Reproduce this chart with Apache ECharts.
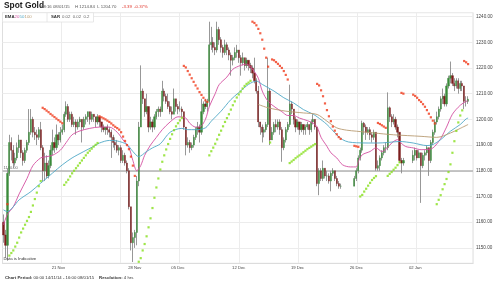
<!DOCTYPE html>
<html><head><meta charset="utf-8">
<script src="https://cdn.jsdelivr.net/npm/echarts@6/dist/echarts.min.js"></script>
<style>html,body{margin:0;padding:0;background:#fff}#c{width:500px;height:284px}</style>
</head><body><div id="c"></div>
<script>
// ---- data (4-hour bars, index 0 = 00:00 14/11/14); null = no trading ----
const firstOpen = 1160;
const closes = [
1155,1151,1179,1191,1188,1183,1185,1189,1192,1187,
1184,1188,1191,1195,1200,1195,1194,1193,1196,1189,
1180,1183,1178,1182,1188,1191,1189,1194,1192,1195,
1196,1202,1205,1200,1202,1198,1199,1197,1199,1200,
1197,1200,1201,1203,1200,1202,1201,1199,1201,1199,
1197,1196,1197,1196,1195,1193,1191,1190,1188,1189,
1184,1186,1183,1180,1166,1152,1154,1156,1176,1197,
1211,1208,1203,1205,1197,1199,1197,1201,1203,1204,
1203,1211,1209,1207,1205,1203,1202,1208,1205,1204,
1204,1203,1197,1190,1191,1189,1190,1193,1196,1197,
1195,1203,1206,1205,1207,1229,1230,1228,1227,1235,
1231,1228,1226,1229,1227,1225,1223,1224,1226,1227,
1224,1222,1224,1221,1223,1221,1220,1218,1215,1211,
1199,1197,1195,1196,1198,1211,1192,1195,1198,1197,
1199,1196,1189,1192,1196,1198,1206,1204,1200,1197,
1199,1196,1198,1196,1197,1198,1196,1199,1200,1197,
1175,1180,1177,1181,1178,1178,1176,1179,1180,1177,
1175,1174,1174,null,null,null,null,null,null,1177,
1180,1185,1188,1198.5,1197,1195,1196,1194,1193,1195,
1181,1182,1185,1187,1189,1189,1204.5,1201,1199,1200,
1197,1195,1184,1183,1184,null,null,null,null,1186,
1188,1185,1187,1182,1186,1187,1189,1184,1191,1195,
1199,1201,1204,1208,1209,1206,1213,1216,1217,1214,
1213,1215,1212,1214,1213,1207,1207,1207.85];
const highs = [
1163,1157,1181,1194,1193,1190,1187,1191,1194,1192,
1188,1189,1192,1204,1204,1201,1197,1196,1197,1199,
1190,1187,1186,1184,1190,1196,1193,1198,1195,1197,
1198,1203,1207,1206,1203,1203,1201,1200,1200,1201,
1200,1201,1202,1203,1203,1203,1202,1201,1202,1201,
1199,1198,1197,1198,1197,1196,1194,1193,1192,1190,
1190,1188,1187,1184,1181,1166,1156,1157,1178,1199,
1221,1212,1208,1210,1205,1201,1200,1202,1204,1205,
1205,1215,1212,1210,1210,1207,1205,1212,1208,1206,
1207,1205,1203,1197,1193,1192,1191,1194,1197,1199,
1198,1208,1207,1208,1208,1238,1236,1232,1230,1238,
1236,1232,1229,1231,1230,1228,1226,1225,1228,1229,
1227,1225,1226,1224,1224,1223,1222,1221,1224,1216,
1213,1199,1198,1197,1199,1224,1212,1197,1199,1200,
1200,1200,1197,1193,1197,1199,1213.5,1207,1204,1201,
1200,1199,1199,1198,1198,1199,1198,1200,1202,1200,
1197,1181,1181,1184,1181,1180,1179,1180,1181,1180,
1178,1176,1175,null,null,null,null,null,null,1178,
1181,1186,1189,1199.5,1199,1198,1197,1197,1195,1196,
1195,1184,1186,1188,1190,1191,1210.5,1205,1202,1202,
1201,1198,1195,1185,1185,null,null,null,null,1188,
1189,1188,1188,1187,1187,1188,1190,1189,1192,1196,
1200,1203,1205,1209,1212,1210,1214,1217,1222.5,1218,
1216,1216,1216,1215,1215,1213,1209,1209];
const lows = [
1152,1146,1145,1178,1184,1181,1182,1184,1187,1185,
1182,1183,1187,1190,1194,1193,1192,1190,1192,1188,
1176,1176,1177,1177,1181,1186,1187,1188,1190,1191,
1194,1195,1201,1199,1199,1197,1197,1194,1196,1197,
1191,1196,1198,1199,1198,1199,1199,1197,1198,1197,
1195,1195,1194,1194,1193,1185,1189,1188,1187,1186,
1183,1183,1182,1179,1165,1149,1144.5,1150,1151,1174,
1197,1206,1201,1202,1195,1196,1195,1196,1200,1201,
1201,1203,1207,1206,1204,1202,1200,1202,1203,1202,
1203,1201,1196,1186,1189,1187,1188,1189,1192,1194,
1191,1194,1202,1204,1203,1205,1227,1226,1225,1226,
1229,1226,1224,1225,1225,1223,1217,1221,1223,1224,
1222,1217,1221,1219,1220,1219,1218,1216,1214,1210,
1197,1194,1191,1193,1195,1197,1190,1192,1194,1195,
1196,1194,1183.5,1188,1191,1195,1197,1202,1198,1195,
1196,1194,1195,1194,1194,1196,1194,1195,1198,1196,
1174,1170.5,1176,1176,1177,1176,1175,1172,1178,1176,
1174,1173,1173,null,null,null,null,null,null,1175,
1176,1179,1184,1187,1194,1192,1194,1192,1191,1192,
1180,1180,1180,1184,1186,1187,1188,1199,1197,1198,
1196,1193,1183,1179,1182,null,null,null,null,1183,
1184,1184,1185,1167.5,1181,1184,1186,1178,1183,1190,
1194,1198,1200,1203,1206,1205,1205,1212,1214,1213,
1211,1212,1210,1211,1211,1204,1205,1206];

// EMA readings [bar index, value]
const ema20 = [[0,1159],[2,1163],[5,1166],[8,1171],[12,1177],[15,1182],[19,1185],[22,1185.5],[25,1186],[29,1188],
[32,1191],[35,1194],[39,1195.5],[44,1196.5],[49,1197],[54,1197],[58,1195],[61,1192],[64,1189],[66,1184],[68,1180],
[70,1182],[72,1186],[75,1190],[78,1193],[81,1196],[85,1199],[89,1201],[93,1200.5],[95,1198.5],[98,1197],[100,1197],
[103,1200],[105,1205],[108,1210],[110,1213.5],[114,1216.5],[117,1219.5],[121,1221],[124,1221.5],[127,1219.5],
[130,1216],[132,1211],[135,1207],[139,1204.5],[142,1203],[145,1201.5],[148,1201.5],[151,1200.5],[155,1199.5],
[158,1198.5],[160,1197],[162,1193],[165,1189.5],[167,1187],[170,1185],[173,1182.3],[177,1181.5],[180,1181.5],
[181,1183.6],[183,1186.2],[187,1187.5],[190,1188.9],[193,1187.5],[196,1189],[198,1190.8],[201,1192.1],[202,1191.4],
[205,1189.5],[209,1188.9],[213,1188.2],[218,1188.5],[220,1189.5],[223,1192.5],[226,1197],[229,1202],[233,1205.5],
[236,1207],[237,1207.3]];
const ema50 = [[0,1164.8],[2,1164.1],[5,1166],[8,1168.7],[14,1171.9],[19,1175.2],[22,1177.1],[25,1179.1],[30,1182.3],
[35,1185],[41,1187.5],[46,1189.5],[49,1190.8],[54,1191.8],[58,1191.6],[63,1190.2],[66,1187.5],[69,1185.5],[73,1187.5],
[76,1188.9],[80,1190.5],[85,1195],[91,1196.5],[94,1196],[98,1196],[103,1196.7],[106,1199.3],[111,1203.2],[116,1207.7],
[120,1210.4],[125,1213.6],[129,1214.9],[132,1213.6],[138,1211],[143,1208.4],[148,1206.4],[153,1203.8],[158,1202],
[160,1201],[165,1198],[170,1194],[173,1192.1],[176,1191.2],[180,1190.9],[186,1190.8],[191,1190.8],[196,1191],
[202,1191.4],[209,1190.8],[216,1189.8],[219,1190.2],[223,1192.1],[228,1195.4],[233,1198],[236,1200.2],[237,1200.5]];
const ema100 = [[130,1205.8],[135,1204.5],[144,1203.2],[153,1202.5],[160,1201.9],[165,1199.3],[170,1196.7],[175,1195.8],
[180,1195.4],[189,1194.7],[199,1194],[213,1193.4],[221,1193],[228,1194.7],[233,1196.5],[237,1198]];

// Parabolic SAR readings: [first bar index, values...]
const sarBelow = [
 [3,[1147,1148,1149,1150.5,1152,1154,1156,1157.5,1159,1160.5,1162,1164,1166.5,1169,1171.5,1174,1176]],
 [31,[1174.5,1175.5,1176.5,1177.8,1179,1180,1181,1182,1183,1184,1185,1186,1187,1187.8,1188.6,1189.4,1190.1,1190.8]],
 [69,[1144.6,1146,1149,1151.5,1154.5,1158,1161.5,1165.5,1169.5,1173.5,1177,1180.5,1183.5,1186,1188.3,1190.4,1192.4,1194.2,1195.8,1197.3,1198.5,1199.6,1200.6]],
 [105,[1186,1187.6,1189,1190.5,1192.2,1194,1195.6,1197.3,1199,1200.5,1202,1203.8,1205.5,1207,1208.5,1209.7,1210.8,1212,1213,1213.8,1214.3,1215]],
 [136,[1191]],
 [146,[1183,1183.6,1184.2,1184.9,1185.5,1186,1186.6,1187.2,1187.8,1188.4,1188.9,1189.4,1189.9,1190.4]],
 [182,[1170,1170.6,1171.9,1173,1174.2,1175.3,1176.4,1177.2,1177.9]],
 [196,[1178,1178.8,1179.5,1180.4,1181.2,1182.2,1183.3]],
 [221,[1167,1168.7,1170.5,1172.8,1174.8,1176.8,1179.5,1182.5,1187,1191.5,1195.5,1198.8,1201.5,1203.5]]
];
const sarAbove = [
 [2,[1167]],
 [20,[1204.5,1204,1203.4,1202.8,1202.1,1201.5,1200.9,1200.3,1199.7,1199.1,1198.5]],
 [49,[1201.2,1200.8,1200.4,1200,1199.5,1199,1198.4,1197.7,1197.1,1196.6,1196,1195,1193.3,1191.6,1190,1188.4,1185.5,1182,1178]],
 [92,[1220.8,1220.2,1218.8,1217.4,1216,1214.6,1213.2,1212,1210.6,1209.5,1208.4,1207.4,1206.8]],
 [127,[1238,1237.5,1236.6,1235.2,1233.5,1231,1227.5,1224,1220.5]],
 [137,[1223.3,1223,1222.3,1221.6,1220.8,1220,1218.8,1217.3,1215.5]],
 [160,[1213.8,1213.2,1211.3,1209,1206.2,1203.6,1201.2,1199.3,1197.2,1195.6,1194.2,1193.1,1192.4]],
 [179,[1189.7,1189.5,1189.3]],
 [191,[1198.6,1198.2,1197.7,1197.2,1196.7]],
 [203,[1210.3,1210]],
 [209,[1209.6,1209.1,1208.4,1207.5,1206.8,1205.9,1204.9,1203.6,1202.2,1200.8,1199.5,1198.4]],
 [235,[1222.7,1222.2,1221.5]]
];

const labelIdx  = [28, 67, 89, 120, 150, 180, 210];
const labelText = ['21 Nov','28 Nov','05 Dec','12 Dec','19 Dec','26 Dec','02 Jan'];
const weekIdx   = [30, 60, 90, 121, 151, 181, 211];
const refLevel = 1180;
const lastPrice = 1207.85;

// ---- build ----
const SLOTS = closes.length + 2;
const cats = [];
for (let i = 0; i < SLOTS; i++) cats.push(String(i));
const wicks = [], bodies = [];
let prev = firstOpen;
for (let i = 0; i < SLOTS; i++) {
  const c = closes[i];
  if (c === null || c === undefined) { wicks.push('-'); bodies.push('-'); continue; }
  const o = prev;
  wicks.push([o, c, Math.min(lows[i], o, c), Math.max(highs[i], o, c)]);
  bodies.push([o, c, Math.min(o, c), Math.max(o, c)]);
  prev = c;
}
function expand(segs) {
  const out = [];
  segs.forEach(([s, vals]) => vals.forEach((v, k) => out.push([s + k, v])));
  return out;
}

const FONT = 'Liberation Sans, Arial, sans-serif';
const UP = '#3a8a3a', DOWN = '#7c1e1e', WICK = '#8c8c8c';
const chart = echarts.init(document.getElementById('c'), null, {renderer: 'canvas'});
chart.setOption({
  animation: false,
  backgroundColor: '#fff',
  textStyle: {fontFamily: FONT},
  grid: {left: 2.5, right: 27, top: 12.7, bottom: 20.7, show: true, borderColor: '#dedede', borderWidth: 1},
  xAxis: {
    type: 'category', data: cats, boundaryGap: true,
    axisLine: {show: true, lineStyle: {color: '#dcdcdc'}},
    axisTick: {show: false},
    axisLabel: {
      interval: (i) => labelIdx.includes(i),
      formatter: (v, i) => labelText[labelIdx.indexOf(i)] || '',
      fontSize: 4.2, color: '#444', margin: 3, fontFamily: FONT
    },
    splitLine: {show: true, interval: (i) => weekIdx.includes(i), lineStyle: {color: '#ececec', width: 1}}
  },
  yAxis: {
    type: 'value', position: 'right', min: 1144, max: 1241.5, splitNumber: 10, scale: true,
    axisLine: {show: false}, axisTick: {show: false},
    axisLabel: {fontSize: 4.6, color: '#444', margin: 3, showMinLabel: false, showMaxLabel: false,
      formatter: (v) => v.toFixed(2), fontFamily: FONT},
    splitLine: {lineStyle: {color: '#ececec', width: 1}}
  },
  series: [
    {
      type: 'candlestick', data: wicks, barWidth: 1, z: 3,
      itemStyle: {color: WICK, color0: WICK, borderColor: WICK, borderColor0: WICK, borderWidth: 0.9},
      markLine: {
        symbol: 'none', silent: true, animation: false, z: 2,
        data: [
          {yAxis: refLevel, lineStyle: {color: '#b3b3b3', width: 1.6, type: 'solid'},
           label: {show: true, position: 'insideStartTop', formatter: refLevel.toFixed(2), fontSize: 4, color: '#666', distance: 1}},
          {yAxis: lastPrice, lineStyle: {opacity: 0},
           label: {show: true, position: 'end', formatter: lastPrice.toFixed(2), fontSize: 5.6, color: '#222',
             backgroundColor: '#fff', borderColor: '#555', borderWidth: 0.8, padding: [1, 2, 0, 2], distance: 1}}
        ]
      }
    },
    {
      type: 'candlestick', data: bodies, barWidth: 1.7, z: 3.5,
      itemStyle: {color: UP, color0: DOWN, borderColor: UP, borderColor0: DOWN, borderWidth: 0.4}
    },
    {type: 'line', data: ema20, smooth: 0.3, showSymbol: false, z: 4, lineStyle: {color: '#d44fa0', width: 0.9}},
    {type: 'line', data: ema50, smooth: 0.3, showSymbol: false, z: 4, lineStyle: {color: '#4fa8c6', width: 0.9}},
    {type: 'line', data: ema100, smooth: 0.3, showSymbol: false, z: 4, lineStyle: {color: '#b89b72', width: 0.9}},
    {type: 'scatter', data: expand(sarBelow), symbol: 'rect', symbolSize: 2.2, z: 5, itemStyle: {color: '#86de1c'}},
    {type: 'scatter', data: expand(sarAbove), symbol: 'rect', symbolSize: 2.2, z: 5, itemStyle: {color: '#f0391a'}}
  ],
  graphic: [
    {type: 'text', left: 4, top: 2, style: {text: 'Spot Gold', fontSize: 8.4, fontWeight: 'bold', fontFamily: FONT, fill: '#1a1a1a'}},
    {type: 'text', left: 41, top: 4.5, style: {text: '08:16 08/01/15', fontSize: 4.3, fontFamily: FONT, fill: '#555'}},
    {type: 'text', left: 75, top: 4.5, style: {text: 'H 1214.84  L 1204.70', fontSize: 4.3, fontFamily: FONT, fill: '#555'}},
    {type: 'text', left: 122, top: 4.5, style: {text: '-3.39  -0.37%', fontSize: 4.3, fontFamily: FONT, fill: '#e0342a'}},
    {type: 'rect', shape: {x: 2.5, y: 12.7, width: 91, height: 9.3}, style: {fill: '#fff', stroke: '#e2e2e2', lineWidth: 0.8}, z: 10},
    {type: 'line', shape: {x1: 47, y1: 13, x2: 47, y2: 22}, style: {stroke: '#e2e2e2', lineWidth: 0.8}, z: 11},
    {type: 'text', x: 5, y: 15.2, z: 12, style: {text: 'EMA', fontSize: 4.3, fontWeight: 'bold', fontFamily: FONT, fill: '#333'}},
    {type: 'text', x: 14.5, y: 15.2, z: 12, style: {text: '20', fontSize: 4.3, fontFamily: FONT, fill: '#d44fa0'}},
    {type: 'text', x: 19.5, y: 15.2, z: 12, style: {text: '50', fontSize: 4.3, fontFamily: FONT, fill: '#4fa8c6'}},
    {type: 'text', x: 24.5, y: 15.2, z: 12, style: {text: '100', fontSize: 4.3, fontFamily: FONT, fill: '#b89b72'}},
    {type: 'text', x: 51, y: 15.2, z: 12, style: {text: 'SAR', fontSize: 4.3, fontWeight: 'bold', fontFamily: FONT, fill: '#333'}},
    {type: 'text', x: 62, y: 15.2, z: 12, style: {text: '0.02  0.02  0.2', fontSize: 4.3, fontFamily: FONT, fill: '#666'}},
    {type: 'text', x: 3.5, y: 256.8, z: 12, style: {text: 'Data is Indicative', fontSize: 4.3, fontFamily: FONT, fill: '#333'}},
    {type: 'text', x: 5, y: 275.8, z: 12, style: {
      text: '{b|Chart Period:} 00:00 14/11/14 - 16:00 08/01/15    {b|Resolution:} 4 hrs',
      fontSize: 4.3, fontFamily: FONT, fill: '#333',
      rich: {b: {fontWeight: 'bold', fontSize: 4.3, fontFamily: FONT, fill: '#333'}}}}
  ]
});
</script></body></html>
